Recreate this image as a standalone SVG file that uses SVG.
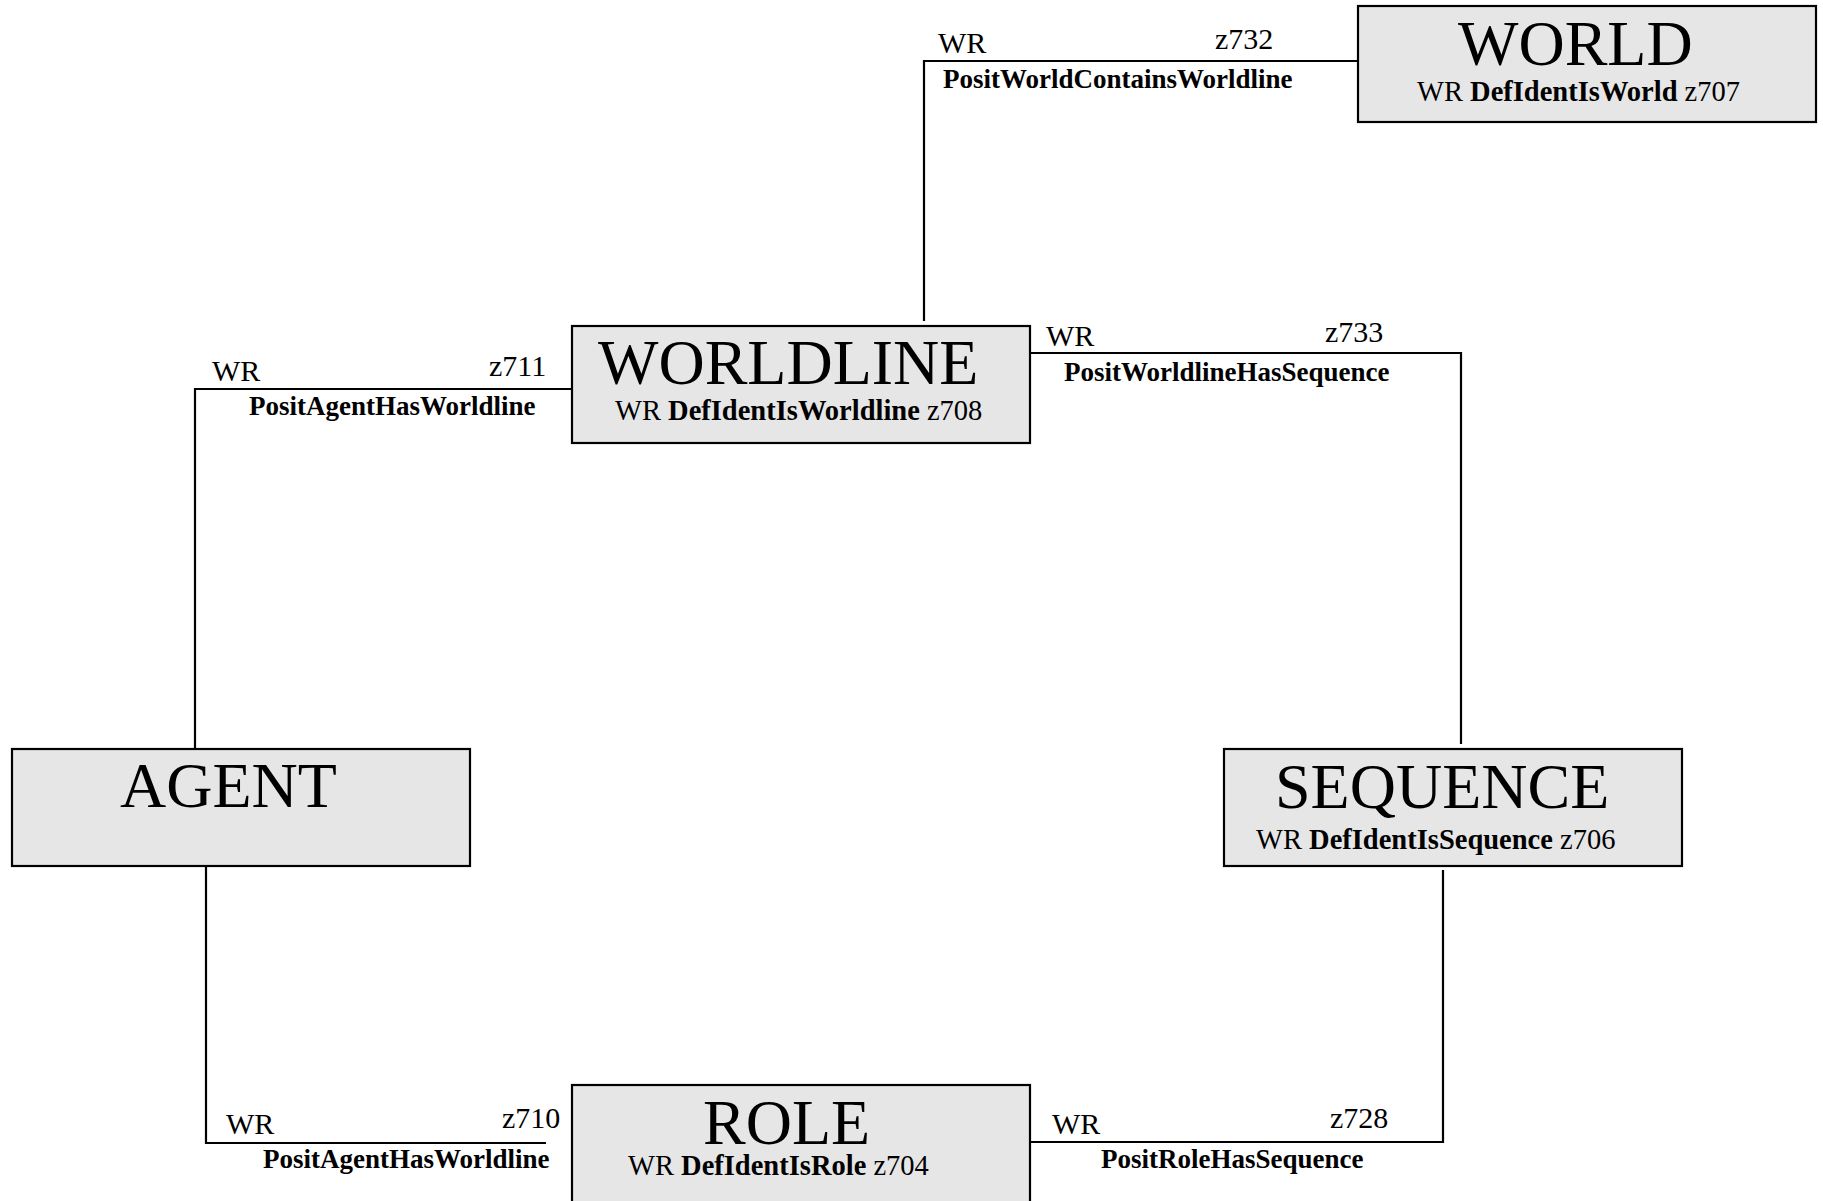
<svg xmlns="http://www.w3.org/2000/svg" width="1823" height="1201" viewBox="0 0 1823 1201">
<style>
.box{fill:#e6e6e6;stroke:#000;stroke-width:2.2}
.t{font-family:"Liberation Serif","Times New Roman",serif;fill:#000}
.big{font-size:64px}
.sub{font-size:28.5px}
.lab{font-size:30px}
.bl{font-size:27px;font-weight:bold}
.b{font-weight:bold}
.c{fill:none;stroke:#000;stroke-width:2.2}
</style>
<rect width="1823" height="1201" fill="#fff"/>
<g id="connectors">
  <polyline class="c" points="1358,61 924,61 924,321"/>
  <polyline class="c" points="1030,353 1461,353 1461,744"/>
  <polyline class="c" points="572,389 195,389 195,748"/>
  <polyline class="c" points="206,866 206,1143 546,1143"/>
  <polyline class="c" points="1030,1142 1443,1142 1443,870"/>
  <text class="t lab" x="938" y="53">WR</text>
  <text class="t lab" x="1215" y="49">z732</text>
  <text class="t bl" x="943" y="88">PositWorldContainsWorldline</text>
  <text class="t lab" x="1046" y="346">WR</text>
  <text class="t lab" x="1325" y="342">z733</text>
  <text class="t bl" x="1064" y="381">PositWorldlineHasSequence</text>
  <text class="t lab" x="212" y="381">WR</text>
  <text class="t lab" x="489" y="376">z711</text>
  <text class="t bl" x="249" y="415">PositAgentHasWorldline</text>
  <text class="t lab" x="226" y="1134">WR</text>
  <text class="t lab" x="502" y="1128">z710</text>
  <text class="t bl" x="263" y="1168">PositAgentHasWorldline</text>
  <text class="t lab" x="1052" y="1134">WR</text>
  <text class="t lab" x="1330" y="1128">z728</text>
  <text class="t bl" x="1101" y="1168">PositRoleHasSequence</text>
</g>
<g id="world">
  <rect class="box" x="1358" y="6" width="458" height="116"/>
  <text class="t big" x="1458" y="65">WORLD</text>
  <text class="t sub" x="1417" y="101">WR <tspan class="b">DefIdentIsWorld</tspan> z707</text>
</g>
<g id="worldline">
  <rect class="box" x="572" y="326" width="458" height="117"/>
  <text class="t big" x="598" y="384">WORLDLINE</text>
  <text class="t sub" x="615" y="420">WR <tspan class="b">DefIdentIsWorldline</tspan> z708</text>
</g>
<g id="agent">
  <rect class="box" x="12" y="749" width="458" height="117"/>
  <text class="t big" x="120" y="807">AGENT</text>
</g>
<g id="sequence">
  <rect class="box" x="1224" y="749" width="458" height="117"/>
  <text class="t big" x="1275" y="808">SEQUENCE</text>
  <text class="t sub" x="1256" y="849">WR <tspan class="b">DefIdentIsSequence</tspan> z706</text>
</g>
<g id="role">
  <rect class="box" x="572" y="1085" width="458" height="118"/>
  <text class="t big" x="703" y="1144">ROLE</text>
  <text class="t sub" x="628" y="1175">WR <tspan class="b">DefIdentIsRole</tspan> z704</text>
</g>
</svg>
